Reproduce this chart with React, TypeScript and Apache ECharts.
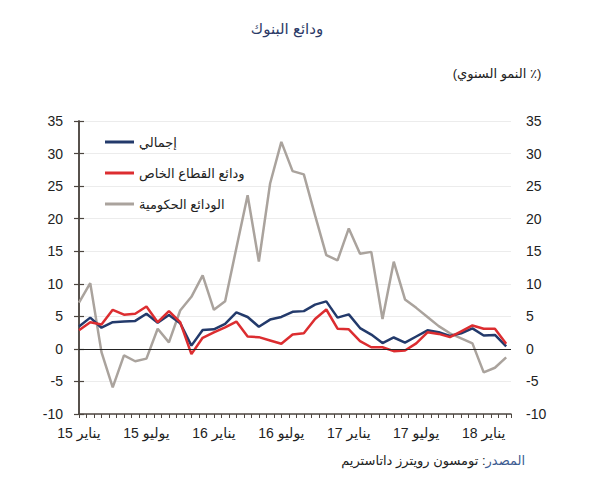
import React, { useEffect, useRef } from "react";
import * as echarts from "echarts";

// Monthly data, Jan 2015 .. Mar 2018 (annual growth, %)
const totalDeposits = [3.45, 4.8, 3.25, 4.1, 4.2, 4.3, 5.4, 4.0, 5.2, 3.95, 0.5, 2.9, 3.0, 3.85, 5.6, 4.9, 3.4, 4.5, 4.9, 5.7, 5.8, 6.8, 7.3, 4.8, 5.3, 3.2, 2.2, 0.9, 1.75, 0.95, 1.9, 2.85, 2.55, 2.0, 2.4, 3.15, 2.05, 2.15, 0.4];
const privateDeposits = [2.85, 4.1, 3.75, 6.0, 5.25, 5.4, 6.5, 4.1, 5.8, 4.1, -0.8, 1.7, 2.55, 3.3, 4.2, 1.9, 1.8, 1.3, 0.8, 2.2, 2.4, 4.6, 6.05, 3.1, 3.0, 1.2, 0.25, 0.25, -0.35, -0.25, 0.85, 2.55, 2.3, 1.8, 2.7, 3.6, 3.1, 3.1, 0.8];
const governmentDeposits = [7.1, 10.1, -0.5, -5.9, -1.0, -1.9, -1.5, 3.1, 1.0, 5.9, 8.0, 11.3, 6.0, 7.3, 15.5, 23.6, 13.4, 25.4, 31.8, 27.3, 26.8, 20.5, 14.4, 13.6, 18.5, 14.6, 14.9, 4.6, 13.4, 7.6, 6.3, 4.9, 3.5, 2.4, 1.6, 0.85, -3.6, -2.9, -1.3];

const seriesNames = ["إجمالي", "ودائع القطاع الخاص", "الودائع الحكومية"];
const tickLabels = ["يناير 15", "يوليو 15", "يناير 16", "يوليو 16", "يناير 17", "يوليو 17", "يناير 18"];
const labelStep = 6; // months between labels

const title = "ودائع البنوك";
const unitLabel = "(النمو السنوي ٪)";
const sourceLabel = "المصدر";
const sourceText = "تومسون رويترز داتاستريم";

const FONT = "'Liberation Sans', Arial, 'DejaVu Sans', sans-serif";
const AXIS_COLOR = "#4d4640";

export default function App() {
  const ref = useRef<HTMLDivElement>(null);
  useEffect(() => {
    if (!ref.current) return;
    const chart = echarts.init(ref.current, null, { renderer: "svg" });
    const toPairs = (arr: number[]) => arr.map((v, i) => [i, v]);
    const xMax = totalDeposits.length - 1 + 0.43;
    const yCommon = {
      type: "value",
      min: -10,
      max: 35,
      interval: 5,
      axisLine: { show: true, lineStyle: { color: AXIS_COLOR, width: 1.5 } },
      axisTick: { show: true, length: 5, lineStyle: { color: AXIS_COLOR, width: 1.2 } },
    };
    chart.setOption({
      animation: false,
      textStyle: { fontFamily: FONT },
      grid: { left: 79, right: 84, top: 121, bottom: 86 },
      graphic: [
        {
          type: "text",
          x: 287,
          y: 28,
          style: { text: title, fontSize: 15, fill: "#2b3a67", align: "center", verticalAlign: "middle", fontFamily: FONT },
        },
        {
          type: "text",
          x: 497,
          y: 73,
          style: { text: unitLabel, fontSize: 13, fill: "#222", align: "center", verticalAlign: "middle", fontFamily: FONT },
        },
        {
          type: "text",
          x: 525,
          y: 460,
          style: {
            text: "{b|" + sourceText + "}{b| :}{a|" + sourceLabel + "}",
            align: "right",
            verticalAlign: "middle",
            fontFamily: FONT,
            rich: {
              a: { fontSize: 13, fill: "#3d5c92", fontFamily: FONT },
              b: { fontSize: 13, fill: "#222", fontFamily: FONT },
            },
          },
        },
      ],
      legend: {
        data: seriesNames,
        orient: "vertical",
        left: 100,
        top: 130,
        icon: "rect",
        itemWidth: 29,
        itemHeight: 3,
        itemGap: 17,
        textStyle: { fontSize: 13, color: "#222", lineHeight: 14, fontFamily: FONT },
      },
      xAxis: [
        {
          type: "value",
          min: 0,
          max: xMax,
          interval: labelStep,
          axisLine: { show: true, onZero: false, lineStyle: { color: AXIS_COLOR, width: 1.5 } },
          axisTick: { show: false },
          splitLine: { show: false },
          axisLabel: {
            fontSize: 14,
            color: "#222",
            margin: 12,
            showMaxLabel: false,
            formatter: (v: number) => {
              const k = Math.round(v / labelStep);
              if (Math.abs(v - k * labelStep) < 1e-6 && k < tickLabels.length) return tickLabels[k];
              return "";
            },
          },
        },
        {
          type: "value",
          min: 0,
          max: xMax,
          interval: 2 / 3,
          position: "bottom",
          axisLine: { show: false, onZero: false },
          axisTick: { show: true, length: 4, lineStyle: { color: AXIS_COLOR, width: 1 } },
          axisLabel: { show: false },
          splitLine: { show: false },
        },
      ],
      yAxis: [
        {
          ...yCommon,
          position: "left",
          splitLine: { show: true, lineStyle: { color: "#ececec", width: 1 } },
          axisLabel: { fontSize: 14, color: "#222", margin: 16 },
        },
        {
          ...yCommon,
          position: "right",
          splitLine: { show: false },
          axisLabel: { fontSize: 14, color: "#222", margin: 15 },
        },
      ],
      series: [
        {
          name: seriesNames[0],
          type: "line",
          data: toPairs(totalDeposits),
          showSymbol: false,
          symbol: "none",
          color: "#233a6b",
          lineStyle: { width: 2.5, color: "#233a6b" },
          z: 3,
          markLine: {
            silent: true,
            symbol: "none",
            label: { show: false },
            lineStyle: { color: "#222", width: 1, type: "solid" },
            data: [{ yAxis: 0 }],
          },
        },
        {
          name: seriesNames[1],
          type: "line",
          data: toPairs(privateDeposits),
          showSymbol: false,
          symbol: "none",
          color: "#dc2d30",
          lineStyle: { width: 2.5, color: "#dc2d30" },
          z: 4,
        },
        {
          name: seriesNames[2],
          type: "line",
          data: toPairs(governmentDeposits),
          showSymbol: false,
          symbol: "none",
          color: "#aaa39d",
          lineStyle: { width: 2.5, color: "#aaa39d" },
          z: 2,
        },
      ],
    });
    return () => chart.dispose();
  }, []);
  return <div ref={ref} style={{ width: 595, height: 500, position: "absolute", left: 0, top: 0 }} />;
}
